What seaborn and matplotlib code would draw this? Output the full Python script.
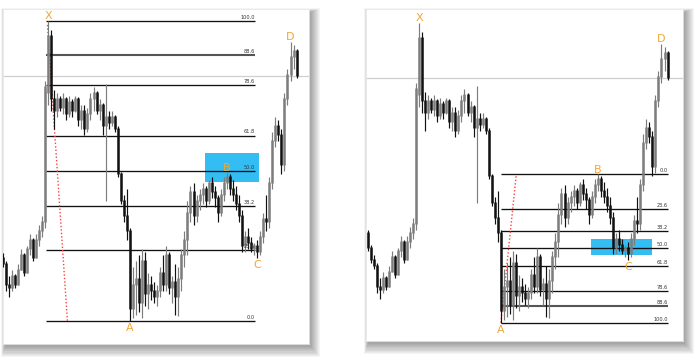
import numpy as np
import pandas as pd
import matplotlib
matplotlib.use("Agg")
import matplotlib.pyplot as plt
import seaborn as sns
from matplotlib.patches import Rectangle

# ---- data (price in pattern units: A low = 0, X high = 100) ----
opens = [28, 30, 25, 21, 19, 12, 11, 15, 12, 17, 22, 16, 24, 27, 21, 27, 30, 33, 76, 95,
         74, 70, 74, 71, 74, 69, 73, 70, 74, 67, 70, 64, 69, 74, 76, 70, 72, 65, 68, 66,
         68, 64, 49, 40, 35, 30, 4, 12, 14, 6, 20, 9, 12, 10, 8, 10, 16, 12, 22, 11,
         13, 8, 14, 22, 27, 36, 43, 35, 40, 42, 44, 40, 46, 43, 41, 36, 42, 46, 48, 44,
         42, 39, 35, 25, 28, 26, 24, 25, 23, 28, 34, 33, 46, 60, 65, 62, 52, 74, 82, 88, 90]
highs = [33, 31, 26, 22.7, 20, 15, 17, 15.5, 19, 24, 22.5, 25, 29, 27.5, 29, 32, 35, 80, 100, 97,
         77, 76, 75, 76, 74.5, 75, 74, 75, 74.5, 72, 72, 71, 76, 78, 76.5, 74, 72.5, 79, 70, 70,
         68.5, 65, 49.5, 42, 44, 31, 18, 20, 22, 24, 23, 16, 15, 13, 12, 18, 22, 25, 23, 15,
         19, 18, 24, 30, 40, 45, 46, 42, 44, 46, 45, 47, 48, 45, 42, 44, 48, 49.5, 49, 47,
         45, 42, 37, 30, 31, 28, 26, 27, 30, 36, 42, 48, 63, 68, 67, 64, 76, 84, 93, 92, 90.5]
lows = [26, 24, 20, 18, 10, 8, 10, 11, 12, 17, 15, 16, 22, 20, 21, 25, 28, 31, 72, 70,
        64, 68, 70, 69, 67, 68, 68, 69.5, 65, 64, 62, 63, 67, 70, 69, 67, 62, 40, 64, 65,
        63, 48, 39, 33, 27, 0, 1, 2, 3, 1, 5, 4, 7, 6, 5, 8, 10, 10, 9, 6,
        2, 1.5, 10, 18, 22, 33, 32, 33, 37, 39, 38, 39, 41, 38, 33, 35, 40, 44, 42, 40,
        37, 33, 23, 23, 24, 23, 22, 21, 22, 26, 30, 31, 44, 58, 60, 49, 50, 72, 80, 84, 81]
closes = [30, 25, 21, 19, 12, 11, 15, 12, 17, 22, 16, 24, 27, 21, 27, 30, 33, 78, 95, 74,
          70, 74, 71, 74, 69, 73, 70, 74, 67, 70, 64, 69, 74, 76, 70, 72, 65, 68, 66, 68,
          64, 49, 40, 35, 30, 4, 12, 14, 6, 20, 9, 12, 10, 8, 10, 16, 12, 22, 11, 13,
          8, 14, 22, 27, 36, 43, 35, 40, 42, 44, 40, 46, 43, 41, 36, 42, 46, 48, 44, 42,
          39, 35, 25, 28, 26, 24, 25, 23, 28, 34, 33, 46, 60, 65, 62, 52, 74, 82, 88, 90, 81.5]
fib_levels = [100.0, 88.6, 78.6, 61.8, 50.0, 38.2, 23.6, 0.0]
pattern_labels = ["X", "A", "B", "C", "D"]
pattern_bars = [18, 45, 77, 87, 98]

sns.set_theme(style="white")
plt.rcParams['font.family'] = ['DejaVu Sans']

df = pd.DataFrame({"o": opens, "h": highs, "l": lows, "c": closes})
df["i"] = np.arange(len(df))

W, H = 700, 360
fig = plt.figure(figsize=(7, 3.6), dpi=100)
fig.patch.set_facecolor("white")

ORANGE = "#F5A534"
BLUE = "#33BDF2"


def shadow(x0, y0, x1, y1):
    for k in range(10):
        r = Rectangle(((x0 + 2 - 0.4 * k) / W, 1 - (y1 + 3 + 1.1 * k) / H),
                      (x1 - x0 + 0.4 * k + 1.0 * k) / W,
                      (y1 - y0 + 0.4 * k + 1.1 * k) / H,
                      transform=fig.transFigure, facecolor="black",
                      edgecolor="none", alpha=0.04, zorder=-5)
        fig.patches.append(r)


def make_axes(x0, y0, x1, y1):
    shadow(x0, y0, x1, y1)
    ax = fig.add_axes([x0 / W, 1 - y1 / H, (x1 - x0) / W, (y1 - y0) / H], zorder=2)
    ax.set_facecolor("white")
    ax.patch.set_alpha(1.0)
    for s in ax.spines.values():
        s.set_color("#e6e6e6")
        s.set_linewidth(0.6)
    ax.set_xticks([])
    ax.set_yticks([])
    return ax


def draw_bars(ax):
    up = df[df.c >= df.o]
    dn = df[df.c < df.o]
    for sub, col in ((up, "#7d7d7d"), (dn, "#111111")):
        ax.vlines(sub.i, sub.l, sub.h, color=col, lw=0.85, zorder=3)
        ax.vlines(sub.i, np.minimum(sub.o, sub.c), np.maximum(sub.o, sub.c) + 0.3,
                  color=col, lw=1.8, zorder=3)
    ax.axhline(closes[-1], color="#cfcfcf", lw=0.9, zorder=1)


def draw_fib(ax, prices, x_start, x_end):
    for lev, p in zip(fib_levels, prices):
        c, lw = ("#555555", 1.5) if lev == 88.6 else ("#111111", 0.95)
        ax.hlines(p, x_start, x_end, color=c, lw=lw, zorder=2)
        ax.text(x_end, p + 0.4, f"{lev:.1f}", ha="right", va="bottom",
                fontsize=3.6, color="#333333", zorder=4)


def draw_labels(ax):
    for lab, b in zip(pattern_labels, pattern_bars):
        if lab in ("X", "B", "D"):
            y = highs[b] + 1.5
        else:
            y = lows[b] - 2.5
        ax.text(b, y, lab, ha="center", va="center", fontsize=8, color=ORANGE, zorder=5)


iX, iA, iB, iC, iD = pattern_bars
xp, ap, bp = highs[iX], lows[iA], highs[iB]

# ---- left panel: XA retracement ----
axL = make_axes(3, 9, 309, 344)
axL.set_xlim(3.14, 104.1)
axL.set_ylim(-7.67, 104)
draw_bars(axL)
left_prices = [ap + r / 100 * (xp - ap) for r in fib_levels]
draw_fib(axL, left_prices, iX - 0.7, iC - 0.7)
z = left_prices[fib_levels.index(50.0)]
axL.add_patch(Rectangle((iX + 51.8, z - 3.7), 17.8, 9.7, facecolor=BLUE,
                        edgecolor="none", zorder=1.5))
sns.lineplot(x=[iX - 0.2, iX + 6.4], y=[xp - 1.3, ap], ax=axL, color="#ff4040",
             lw=1.0, linestyle=(0, (1, 1.5)), zorder=2.5)
draw_labels(axL)

# ---- right panel: AB extension ----
axR = make_axes(366, 9, 683, 341)
axR.set_xlim(0.5, 105.1)
axR.set_ylim(-6.1, 104.6)
draw_bars(axR)
right_prices = [bp - r / 100 * (bp - ap) for r in fib_levels]
draw_fib(axR, right_prices, iA, iD + 2.2)
z = right_prices[fib_levels.index(50.0)]
axR.add_patch(Rectangle((iB - 2.4, z - 2.2), 20.2, 5.2, facecolor=BLUE,
                        edgecolor="none", zorder=1.5))
sns.lineplot(x=[iA, iA + 5.1], y=[ap, bp], ax=axR, color="#ff4040",
             lw=1.0, linestyle=(0, (1, 1.5)), zorder=2.5)
draw_labels(axR)

fig.savefig("out.png", dpi=100, facecolor="white")
